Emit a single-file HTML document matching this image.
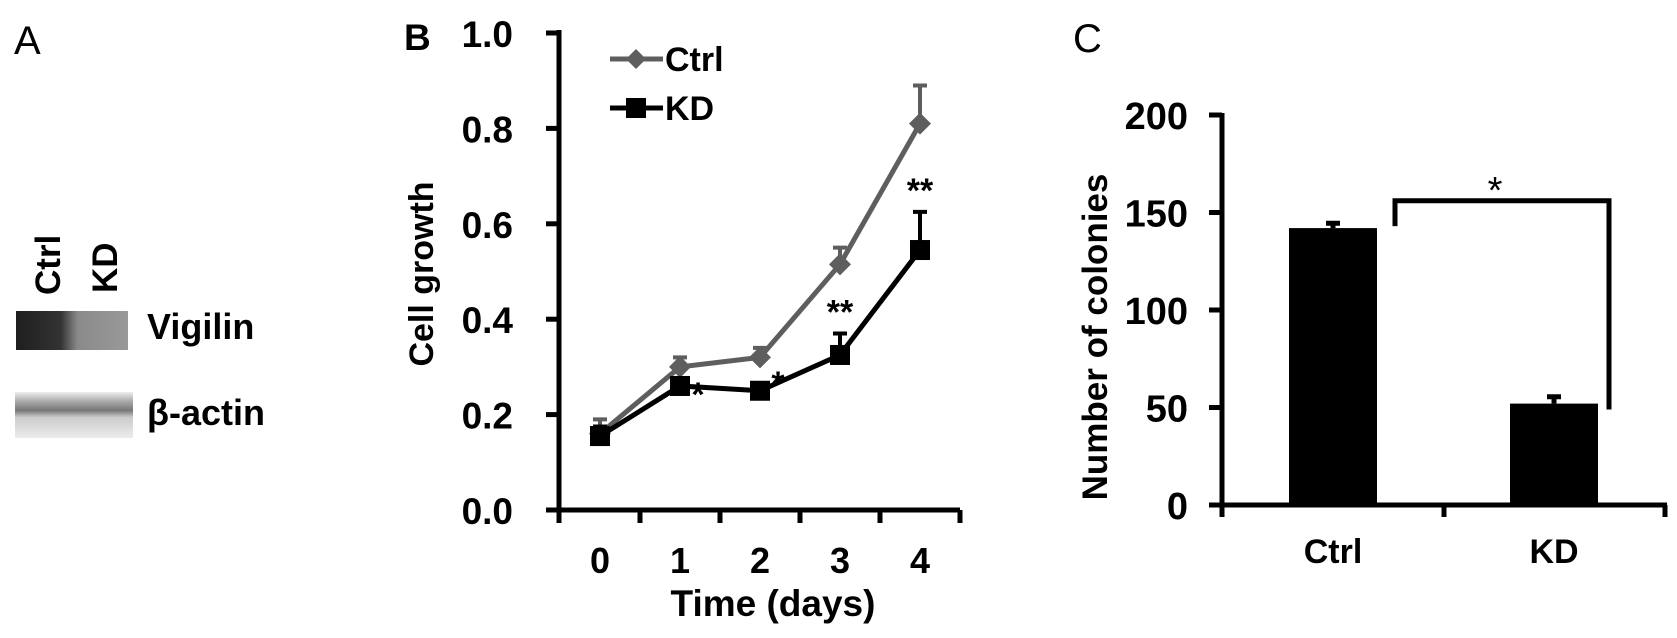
<!DOCTYPE html>
<html><head><meta charset="utf-8"><style>
body{margin:0;background:#fff;}
svg{display:block;font-family:"Liberation Sans",Arial,sans-serif;font-weight:bold;}
</style></head><body>
<svg width="1677" height="638" viewBox="0 0 1677 638">
<defs>
<linearGradient id="vig" x1="0" x2="1"><stop offset="0" stop-color="#1e1e1e"/><stop offset="0.4" stop-color="#333"/><stop offset="0.55" stop-color="#8a8a8a"/><stop offset="1" stop-color="#999"/></linearGradient>
<linearGradient id="act" x1="0" y1="0" x2="0" y2="1"><stop offset="0" stop-color="#eee"/><stop offset="0.2" stop-color="#aaa"/><stop offset="0.4" stop-color="#777"/><stop offset="0.55" stop-color="#ccc"/><stop offset="1" stop-color="#ececec"/></linearGradient>
</defs>
<g>
<text x="14" y="54" font-size="40" font-weight="normal">A</text>
<text transform="translate(60,295) rotate(-90)" font-size="35">Ctrl</text>
<text transform="translate(117,293) rotate(-90)" font-size="35">KD</text>
<rect x="16" y="311" width="112" height="39" fill="url(#vig)"/>
<rect x="15" y="392" width="118" height="46" fill="url(#act)"/>
<text x="147" y="339" font-size="36">Vigilin</text>
<text x="147" y="425" font-size="36">β-actin</text>
</g>
<g id="panelB"></g>
<g id="panelC"></g>
</svg>
<script>
const days=["0","1","2","3","4"];
const ctrlVals=[0.16,0.30,0.32,0.515,0.81];
const ctrlErr=[0.03,0.02,0.02,0.035,0.08];
const kdVals=[0.155,0.26,0.25,0.325,0.545];
const kdErr=[0.02,0.01,0.005,0.045,0.08];
const sigMarks=["","*","*","**","**"];
const bTicks=["0.0","0.2","0.4","0.6","0.8","1.0"];
const colCats=["Ctrl","KD"];
const colVals=[142,52];
const colErr=[2.5,3.5];
const cTicks=[0,50,100,150,200];

const NS="http://www.w3.org/2000/svg";
function mk(p,tag,at,txt){const e=document.createElementNS(NS,tag);for(const k in at)e.setAttribute(k,at[k]);if(txt!==undefined)e.textContent=txt;p.appendChild(e);return e;}

// Panel B
const B=document.getElementById('panelB');
const by=v=>510-v*477;
const bx=i=>600+i*80;
let e=mk(B,'text',{x:404,y:50,'font-size':37},'B');

e=mk(B,'line',{x1:559,y1:30,x2:559,y2:523,stroke:'#000','stroke-width':5});

e=mk(B,'line',{x1:546,y1:510,x2:960,y2:510,stroke:'#000','stroke-width':5});

bTicks.forEach(t=>{const y=by(parseFloat(t));
 e=mk(B,'line',{x1:546,y1:y,x2:559,y2:y,stroke:'#000','stroke-width':5});
 
 e=mk(B,'text',{x:513,y:y+14,'font-size':37,'text-anchor':'end'},t);
 });
days.forEach((d,i)=>{
 const tx=bx(i)+40;
 e=mk(B,'line',{x1:tx,y1:510,x2:tx,y2:523,stroke:'#000','stroke-width':5});
 
 e=mk(B,'text',{x:bx(i),y:573,'font-size':36,'text-anchor':'middle'},d);
 });
e=mk(B,'text',{x:773,y:616,'font-size':37,'text-anchor':'middle'},'Time (days)');

e=mk(B,'text',{transform:'translate(433,274) rotate(-90)','font-size':34,'text-anchor':'middle'},'Cell growth');

function series(vals,err,color,name,marker){
 vals.forEach((v,i)=>{const x=bx(i);
  e=mk(B,'path',{d:`M${x} ${by(v)}V${by(v+err[i])}M${x-7} ${by(v+err[i])}H${x+7}`,stroke:color,'stroke-width':4,fill:'none'});
  });
 e=mk(B,'polyline',{points:vals.map((v,i)=>bx(i)+','+by(v)).join(' '),stroke:color,'stroke-width':5,fill:'none'});
 
 vals.forEach((v,i)=>{const x=bx(i),y=by(v);
  if(marker==='d')e=mk(B,'path',{d:`M${x} ${y-11}L${x+11} ${y}L${x} ${y+11}L${x-11} ${y}Z`,fill:color});
  else e=mk(B,'rect',{x:x-10,y:y-10,width:20,height:20,fill:color});
  });
}
series(ctrlVals,ctrlErr,'#5e5e5e','ctrl','d');
series(kdVals,kdErr,'#000','kd','s');
sigMarks.forEach((s,i)=>{if(!s)return;
 let x,y;
 if(s.length===1){x=bx(i)+18;y=by(kdVals[i])+(i===1?20:4);}
 else{x=bx(i);y=by(kdVals[i]+kdErr[i])-10;}
 e=mk(B,'text',{x:x,y:y,'font-size':34,'text-anchor':'middle'},s);
 });
e=mk(B,'line',{x1:610,y1:59,x2:663,y2:59,stroke:'#5e5e5e','stroke-width':5});

e=mk(B,'path',{d:'M636 49L646 59L636 69L626 59Z',fill:'#5e5e5e'});

e=mk(B,'text',{x:665,y:71,'font-size':34},'Ctrl');

e=mk(B,'line',{x1:610,y1:108,x2:663,y2:108,stroke:'#000','stroke-width':5});

e=mk(B,'rect',{x:626,y:98,width:20,height:20,fill:'#000'});

e=mk(B,'text',{x:665,y:120,'font-size':34},'KD');


// Panel C
const C=document.getElementById('panelC');
const cy=v=>505-v*1.95;
const cx=i=>1333+i*221;
e=mk(C,'text',{x:1073,y:52,'font-size':40,'font-weight':'normal'},'C');

e=mk(C,'line',{x1:1222,y1:113,x2:1222,y2:517,stroke:'#000','stroke-width':5});

e=mk(C,'line',{x1:1209,y1:505,x2:1667,y2:505,stroke:'#000','stroke-width':5});

[1444,1665].forEach(x=>{e=mk(C,'line',{x1:x,y1:505,x2:x,y2:517,stroke:'#000','stroke-width':5});
 });
cTicks.forEach(t=>{const y=cy(t);
 e=mk(C,'line',{x1:1209,y1:y,x2:1222,y2:y,stroke:'#000','stroke-width':5});
 
 e=mk(C,'text',{x:1188,y:y+14,'font-size':38,'text-anchor':'end'},String(t));
 });
colCats.forEach((c,i)=>{const x=cx(i);
 e=mk(C,'rect',{x:x-44,y:cy(colVals[i]),width:88,height:505-cy(colVals[i]),fill:'#000'});
 
 e=mk(C,'path',{d:`M${x} ${cy(colVals[i])}V${cy(colVals[i]+colErr[i])}M${x-7} ${cy(colVals[i]+colErr[i])}H${x+7}`,stroke:'#000','stroke-width':5});
 
 e=mk(C,'text',{x:x,y:563,'font-size':34,'text-anchor':'middle'},c);
 });
e=mk(C,'path',{d:`M1395 ${cy(143)}V${cy(156)}H1609V${cy(49)}`,stroke:'#000','stroke-width':5,fill:'none'});

e=mk(C,'text',{x:1495,y:203,'font-size':38,'font-weight':'normal','text-anchor':'middle'},'*');

e=mk(C,'text',{transform:'translate(1107,337) rotate(-90)','font-size':35,'text-anchor':'middle'},'Number of colonies');

</script>
</body></html>
